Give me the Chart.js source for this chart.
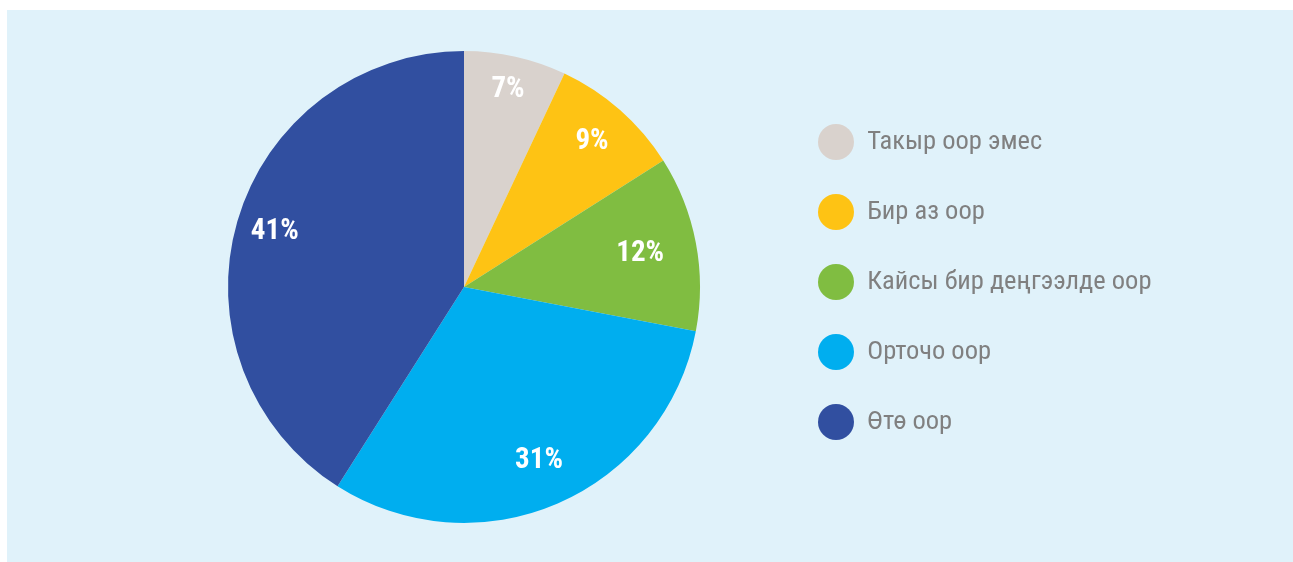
<!DOCTYPE html>
<html>
<head>
<meta charset="utf-8">
<script src="https://cdn.jsdelivr.net/npm/chart.js@4.4.1/dist/chart.umd.min.js"></script>
<style>
  html, body { margin: 0; padding: 0; background: #ffffff; }
  #panel {
    position: absolute;
    left: 7px; top: 10px;
    width: 1286px; height: 552px;
    background: #e0f2fa;
  }
</style>
</head>
<body>
<div id="panel">
  <canvas id="pieChart" width="1286" height="552"></canvas>
</div>
<script>
// ==========================================
// DATA
// ==========================================
const categories = ["Такыр оор эмес", "Бир аз оор", "Кайсы бир деңгээлде оор", "Орточо оор", "Өтө оор"];
const shares = [7, 9, 12, 31, 41];
const sliceColors = ["#d9d2cd", "#fec314", "#80bd41", "#00aeef", "#314fa0"];

// how far out (fraction of radius) each percent label sits
const labelRadius = [0.855, 0.82, 0.76, 0.80, 0.835];

const FONT = '"Roboto Condensed", Roboto, sans-serif';
const LEGEND_SIZE = 26.5;
const LEGEND_GAP = 43.5;    // vertical padding between legend rows
const DOT = 36;             // legend circle diameter

// Percent labels inside each slice
const sliceLabels = {
    id: 'sliceLabels',
    afterDatasetsDraw(chart) {
        const ctx = chart.ctx;
        const meta = chart.getDatasetMeta(0);
        ctx.save();
        ctx.fillStyle = '#ffffff';
        ctx.font = 'bold 29px ' + FONT;
        ctx.textAlign = 'center';
        ctx.textBaseline = 'middle';
        meta.data.forEach((arc, i) => {
            const p = arc.getProps(['x', 'y', 'startAngle', 'endAngle', 'outerRadius'], true);
            const mid = (p.startAngle + p.endAngle) / 2;
            const r = p.outerRadius * labelRadius[i];
            ctx.fillText(shares[i] + '%', p.x + Math.cos(mid) * r, p.y + Math.sin(mid) * r);
        });
        ctx.restore();
    }
};

const ctx = document.getElementById('pieChart').getContext('2d');

// legend should start at a fixed x inside the panel, so work out how wide it will be
const legendLeft = 829 - LEGEND_GAP - DOT / 2;
ctx.font = LEGEND_SIZE + 'px ' + FONT;
const longest = Math.max(...categories.map(c => ctx.measureText(c).width));
const legendWidth = LEGEND_GAP + DOT + LEGEND_SIZE / 2 + longest + 10;
const padRight = 1286 - legendLeft - legendWidth;
const padLeft = 2 * 457 - legendLeft;   // keeps the pie centred at x = 457

const myChart = new Chart(ctx, {
    type: 'pie',
    data: {
        labels: categories,
        datasets: [{
            data: shares,
            backgroundColor: sliceColors,
            borderWidth: 0,
            hoverOffset: 0
        }]
    },
    options: {
        responsive: false,
        animation: false,
        layout: {
            padding: { left: padLeft, right: padRight, top: 41, bottom: 39 }
        },
        plugins: {
            tooltip: { enabled: false },
            legend: {
                position: 'right',
                align: 'start',
                // empty title only pushes the rows down a bit
                title: { display: true, text: '', font: { size: 10, lineHeight: 3.425 } },
                labels: {
                    usePointStyle: true,
                    pointStyle: 'circle',
                    pointStyleWidth: DOT,
                    boxHeight: DOT / Math.SQRT2,
                    padding: LEGEND_GAP,
                    color: '#808080',
                    font: { family: FONT, size: LEGEND_SIZE }
                }
            }
        }
    },
    plugins: [sliceLabels]
});
</script>
</body>
</html>
